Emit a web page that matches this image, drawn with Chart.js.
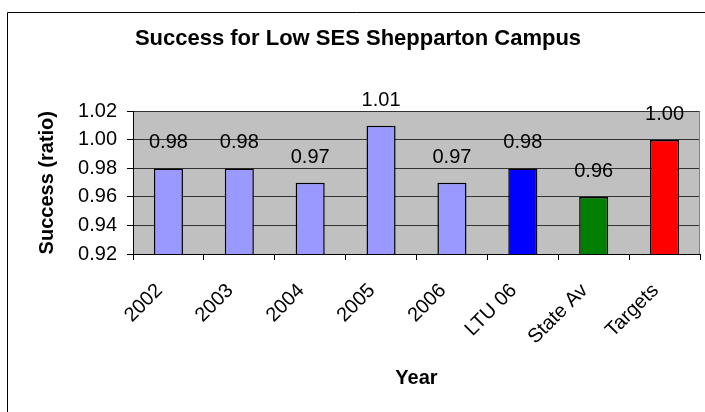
<!DOCTYPE html>
<html>
<head>
<meta charset="utf-8">
<title>Success for Low SES Shepparton Campus</title>
<script src="https://cdn.jsdelivr.net/npm/chart.js@4/dist/chart.umd.min.js"></script>
<style>
    html, body { margin: 0; padding: 0; background: #fff; }
    #wrap { width: 705px; height: 412px; }
</style>
</head>
<body>
<div id="wrap"><canvas id="chart" width="705" height="412"></canvas></div>
<script>
// ############################### DATA ###############################

var categories = ['2002', '2003', '2004', '2005', '2006', 'LTU 06', 'State Av', 'Targets'];
var successValues = [0.98, 0.98, 0.97, 1.01, 0.97, 0.98, 0.96, 1.00];
var barColours = ['#9999FF', '#9999FF', '#9999FF', '#9999FF', '#9999FF', '#0000FF', '#008000', '#FF0000'];
var yTicks = [0.92, 0.94, 0.96, 0.98, 1.00, 1.02];

var fontFamily = '"Liberation Sans", Arial, sans-serif';

// ####################### PLOT AREA + FRAME #######################

var plotBackground = {
    id: 'plotBackground',
    beforeDraw: function (chart) {
        var ctx = chart.ctx;
        var a = chart.chartArea;

        ctx.save();
        ctx.fillStyle = '#ffffff';
        ctx.fillRect(0, 0, chart.width, chart.height);

        // grey plot area
        ctx.fillStyle = '#C0C0C0';
        ctx.fillRect(a.left, a.top, a.right - a.left, a.bottom - a.top);

        // chart frame, only top and left edges are in the picture
        ctx.strokeStyle = '#000000';
        ctx.lineWidth = 1;
        ctx.beginPath();
        ctx.moveTo(7.5, chart.height);
        ctx.lineTo(7.5, 12.5);
        ctx.lineTo(chart.width, 12.5);
        ctx.stroke();
        ctx.restore();
    },
    beforeDatasetsDraw: function (chart) {
        var ctx = chart.ctx;
        var a = chart.chartArea;

        // right edge of the plot area
        ctx.save();
        ctx.strokeStyle = '#808080';
        ctx.lineWidth = 1;
        ctx.beginPath();
        ctx.moveTo(Math.round(a.right) - 0.5, a.top);
        ctx.lineTo(Math.round(a.right) - 0.5, a.bottom);
        ctx.stroke();
        ctx.restore();
    }
};

// ####################### VALUE LABELS ABOVE BARS #######################

var valueLabels = {
    id: 'valueLabels',
    afterDatasetsDraw: function (chart) {
        var ctx = chart.ctx;
        var meta = chart.getDatasetMeta(0);

        ctx.save();
        ctx.font = '20px ' + fontFamily;
        ctx.fillStyle = '#000000';
        ctx.textAlign = 'center';
        ctx.textBaseline = 'alphabetic';
        meta.data.forEach(function (bar, i) {
            ctx.fillText(successValues[i].toFixed(2), bar.x, bar.y - 20);
        });
        ctx.restore();
    }
};

// ############################### MAIN ###############################

var chart = new Chart(document.getElementById('chart'), {
    type: 'bar',
    data: {
        labels: categories,
        datasets: [{
            label: 'Success',
            data: successValues,
            backgroundColor: barColours,
            borderColor: '#000000',
            borderWidth: 1.5,
            barPercentage: 0.41,
            categoryPercentage: 1.0
        }]
    },
    options: {
        responsive: false,
        animation: false,
        layout: { padding: { left: 16, right: 5, top: 0, bottom: 0 } },
        plugins: {
            legend: { display: false },
            tooltip: { enabled: false },
            title: {
                display: true,
                text: 'Success for Low SES Shepparton Campus',
                color: '#000000',
                font: { family: fontFamily, size: 22, weight: 'bold', lineHeight: 1.2 },
                padding: { top: 26, bottom: 59 }
            }
        },
        scales: {
            x: {
                grid: {
                    display: true,
                    drawOnChartArea: false,
                    drawTicks: true,
                    tickLength: 6,
                    tickColor: '#000000',
                    offset: true
                },
                border: { display: true, color: '#000000', width: 1 },
                ticks: {
                    color: '#000000',
                    font: { family: fontFamily, size: 20 },
                    minRotation: 45,
                    maxRotation: 45,
                    autoSkip: false,
                    labelOffset: -9,
                    padding: 19
                },
                title: {
                    display: true,
                    text: 'Year',
                    color: '#000000',
                    font: { family: fontFamily, size: 20, weight: 'bold', lineHeight: 1.2 },
                    padding: { top: 0, bottom: 22 }
                },
                afterFit: function (scale) {
                    scale.height = 158;
                }
            },
            y: {
                min: yTicks[0],
                max: yTicks[yTicks.length - 1],
                afterBuildTicks: function (scale) {
                    scale.ticks = yTicks.map(function (v) { return { value: v }; });
                },
                grid: {
                    color: '#333333',
                    lineWidth: 1,
                    drawTicks: true,
                    tickLength: 6,
                    tickColor: '#000000'
                },
                border: { display: true, color: '#000000', width: 1 },
                ticks: {
                    color: '#000000',
                    font: { family: fontFamily, size: 20 },
                    padding: 10,
                    callback: function (value) {
                        return Number(value).toFixed(2);
                    }
                },
                title: {
                    display: true,
                    text: 'Success (ratio)',
                    color: '#000000',
                    font: { family: fontFamily, size: 20, weight: 'bold', lineHeight: 1.2 },
                    padding: { top: 19, bottom: 0 }
                },
                afterFit: function (scale) {
                    scale.width = 117;
                }
            }
        }
    },
    plugins: [plotBackground, valueLabels]
});
</script>
</body>
</html>
